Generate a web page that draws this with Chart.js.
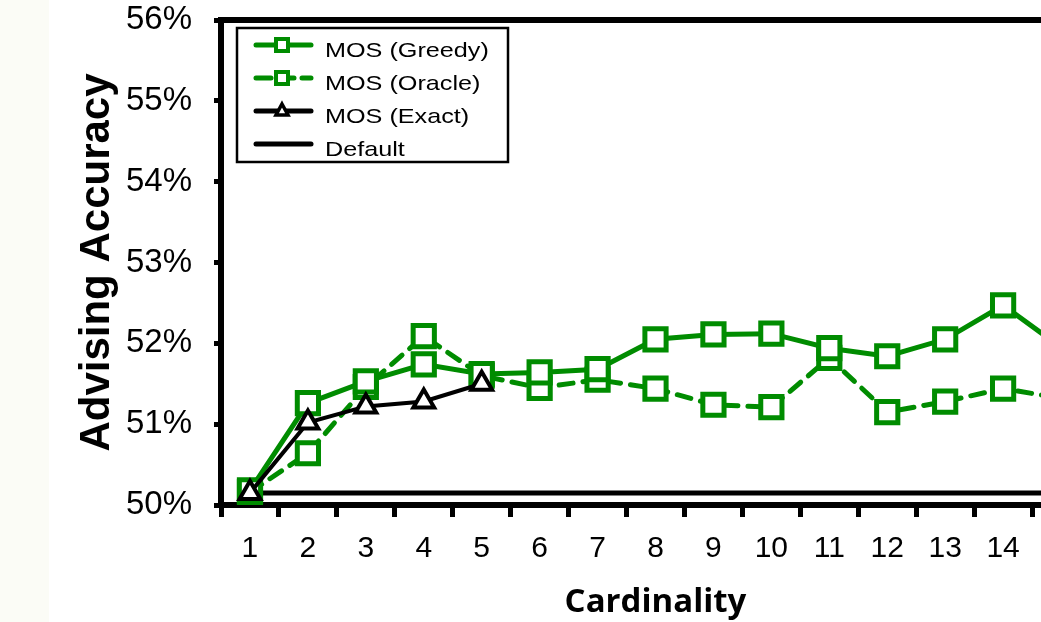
<!DOCTYPE html>
<html>
<head>
<meta charset="utf-8">
<script src="https://cdn.jsdelivr.net/npm/chart.js@4.4.1/dist/chart.umd.min.js"></script>
<style>
  html, body { margin: 0; padding: 0; background: #ffffff; overflow: hidden; }
  #strip { position: absolute; left: 0; top: 0; width: 49px; height: 622px; background: #fbfcf6; }
  #wrap { position: absolute; left: 0; top: 0; width: 1110px; height: 622px; }
</style>
</head>
<body>
<div id="strip"></div>
<div id="wrap"><canvas id="chart" width="1110" height="622"></canvas></div>
<script>
// data
const cardinality = ['1', '2', '3', '4', '5', '6', '7', '8', '9', '10', '11', '12', '13', '14', '15'];
const greedy = [50.18, 51.26, 51.53, 51.74, 51.62, 51.64, 51.68, 52.05, 52.11, 52.12, 51.94, 51.84, 52.05, 52.47, 51.95];
const oracle = [50.16, 50.64, 51.46, 52.09, 51.60, 51.45, 51.55, 51.44, 51.24, 51.21, 51.82, 51.15, 51.28, 51.44, 51.32];
const exact = [50.15, 51.02, 51.22, 51.28, 51.50, null, null, null, null, null, null, null, null, null, null];
const defaultAcc = [50.15, 50.15, 50.15, 50.15, 50.15, 50.15, 50.15, 50.15, 50.15, 50.15, 50.15, 50.15, 50.15, 50.15, 50.15];
const yTicks = [50, 51, 52, 53, 54, 55, 56];

const GREEN = '#008c00';

// legend entries (drawn by the plugin below)
const legendItems = [
  { label: 'MOS (Greedy)', color: GREEN, dash: [], marker: 'rect' },
  { label: 'MOS (Oracle)', color: GREEN, dash: [15, 8], marker: 'rect' },
  { label: 'MOS (Exact)', color: '#000', dash: [], marker: 'triangle' },
  { label: 'Default', color: '#000', dash: [], marker: null }
];

const framePlugin = {
  id: 'frame',
  afterDraw(chart) {
    const { ctx, chartArea } = chart;
    ctx.save();
    // top and right border of the plot
    ctx.strokeStyle = '#000';
    ctx.lineWidth = 6;
    ctx.beginPath();
    ctx.moveTo(chartArea.left - 3, chartArea.top);
    ctx.lineTo(chartArea.right, chartArea.top);
    ctx.lineTo(chartArea.right, chartArea.bottom);
    ctx.stroke();

    // legend box
    const bx = 237, by = 28, bw = 271, bh = 134;
    ctx.fillStyle = '#fff';
    ctx.fillRect(bx, by, bw, bh);
    ctx.lineWidth = 2.5;
    ctx.strokeRect(bx, by, bw, bh);

    legendItems.forEach((item, i) => {
      const ly = 45 + i * 33;
      ctx.strokeStyle = item.color;
      ctx.lineWidth = 5;
      ctx.lineCap = 'round';
      ctx.setLineDash(item.dash);
      ctx.beginPath();
      ctx.moveTo(256, ly);
      ctx.lineTo(311, ly);
      ctx.stroke();
      ctx.setLineDash([]);
      if (item.marker === 'rect') {
        ctx.fillStyle = '#fff';
        ctx.lineWidth = 4;
        ctx.fillRect(276, ly - 6, 12, 12);
        ctx.strokeRect(276, ly - 6, 12, 12);
      } else if (item.marker === 'triangle') {
        ctx.fillStyle = '#fff';
        ctx.lineWidth = 3.5;
        ctx.beginPath();
        ctx.moveTo(282, ly - 7);
        ctx.lineTo(288, ly + 4);
        ctx.lineTo(276, ly + 4);
        ctx.closePath();
        ctx.fill();
        ctx.stroke();
      }
      // text (the figure's legend text is drawn wide)
      ctx.save();
      ctx.translate(325, ly + 12);
      ctx.scale(1.2, 1);
      ctx.fillStyle = '#000';
      ctx.font = '21px "Liberation Sans", Arial, sans-serif';
      ctx.textBaseline = 'alphabetic';
      ctx.fillText(item.label, 0, 0);
      ctx.restore();
    });
    ctx.restore();
  }
};

new Chart(document.getElementById('chart'), {
  type: 'line',
  data: {
    labels: cardinality,
    datasets: [
      {
        label: 'MOS (Greedy)', data: greedy, order: 1,
        borderColor: GREEN, borderWidth: 5,
        pointStyle: 'rect', pointRadius: 15, pointBorderWidth: 5,
        pointBackgroundColor: '#fff', pointBorderColor: GREEN
      },
      {
        label: 'MOS (Oracle)', data: oracle, order: 2,
        borderColor: GREEN, borderWidth: 5, borderDash: [14, 10], borderCapStyle: 'round',
        pointStyle: 'rect', pointRadius: 15, pointBorderWidth: 5,
        pointBackgroundColor: '#fff', pointBorderColor: GREEN
      },
      {
        label: 'MOS (Exact)', data: exact, order: 0,
        borderColor: '#000', borderWidth: 4,
        pointStyle: 'triangle', pointRadius: 12, pointBorderWidth: 4,
        pointBackgroundColor: '#fff', pointBorderColor: '#000'
      },
      {
        label: 'Default', data: defaultAcc, order: 3,
        borderColor: '#000', borderWidth: 5, pointRadius: 0
      }
    ]
  },
  options: {
    responsive: false,
    animation: false,
    layout: { padding: { left: 72, right: 12, top: 0, bottom: 0 } },
    plugins: { legend: { display: false }, tooltip: { enabled: false } },
    scales: {
      x: {
        offset: true,
        grid: { offset: true, drawOnChartArea: false, drawTicks: true, tickLength: 12, tickWidth: 5, tickColor: '#000' },
        border: { display: true, color: '#000', width: 6 },
        ticks: { color: '#000', padding: 14, font: { family: '"Liberation Sans", Arial, sans-serif', size: 30 } },
        title: {
          display: true, text: 'Cardinality', color: '#000', padding: 0,
          font: { family: '"Open Sans", sans-serif', size: 33, weight: 'bold' }
        },
        afterFit(scale) { scale.height = 117; }
      },
      y: {
        min: 50, max: 56,
        afterBuildTicks(scale) { scale.ticks = yTicks.map(v => ({ value: v })); },
        grid: { drawOnChartArea: false, drawTicks: true, tickLength: 7, tickWidth: 5, tickColor: '#000' },
        border: { display: true, color: '#000', width: 6 },
        ticks: {
          color: '#000', padding: 22,
          font: { family: '"Liberation Sans", Arial, sans-serif', size: 33, lineHeight: 1 },
          callback: v => v + '%'
        },
        title: {
          display: true, text: 'Advising Accuracy', color: '#000', padding: 0,
          font: { family: '"Liberation Sans", Arial, sans-serif', size: 42, weight: 'bold' }
        },
        afterFit(scale) {
          scale.width = 149;
          scale.paddingTop = 16;
          scale.paddingBottom = 0;
        }
      }
    }
  },
  plugins: [framePlugin]
});
</script>
</body>
</html>
